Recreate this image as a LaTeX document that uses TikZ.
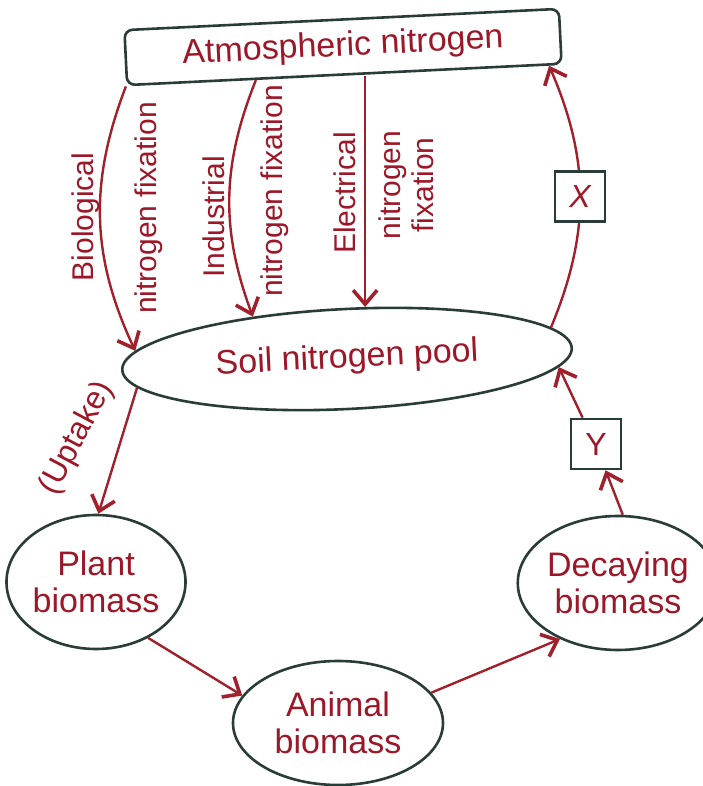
\documentclass[tikz,border=0pt]{standalone}
\usepackage{fontspec}
\setmainfont{Liberation Sans}
\usetikzlibrary{positioning,arrows.meta,shapes.geometric}
\definecolor{inkred}{RGB}{156,24,40}
\definecolor{rimgrey}{RGB}{42,60,55}
\definecolor{flowred}{RGB}{160,32,44}

\begin{document}
\begin{tikzpicture}[x=0.5pt, y=0.5pt,
  pool/.style={ellipse, draw=rimgrey, line width=1.3pt, fill=white, text=inkred,
    inner sep=0pt, align=center, font=\fontsize{17}{18.5}\selectfont},
  airbox/.style={rectangle, rounded corners=4pt, draw=rimgrey, line width=1.3pt,
    text=inkred, inner sep=0pt, font=\fontsize{17}{18.5}\selectfont},
  flow/.style={draw=flowred, line width=1.2pt,
    -{Straight Barb[length=7pt,width=12pt,line width=1.8pt]}},
  side/.style={text=inkred, font=\fontsize{15}{16.5}\selectfont, rotate=90,
    align=center, inner sep=0pt},
  tag/.style={draw=rimgrey, line width=1.3pt, fill=white, text=inkred,
    minimum size=25pt, inner sep=0pt, font=\fontsize{16}{16}\selectfont}]
% x = 0 is the left edge, y = 0 the bottom edge; one unit is one reference pixel
\useasboundingbox (0,0) rectangle (702,786);

\node[airbox, minimum width=217.5pt, minimum height=27.5pt, rotate=2.8] (atm) at (343,739) {Atmospheric nitrogen};
\node[pool, minimum width=225pt, minimum height=50pt, rotate=2.8] (soil) at (347,427) {Soil nitrogen pool};
\node[pool, minimum width=89pt, minimum height=67pt] (plant) at (96,204) {Plant\\biomass};
\node[pool, minimum width=105pt, minimum height=62pt] (animal) at (338,63) {Animal\\biomass};
\node[pool, minimum width=84pt, minimum height=67pt] (decay) at (618,203) {Decaying\\biomass};
\node[tag] (ybox) at (596,342) {Y};

% fixation routes
\draw[flow] (atm.south west) to[bend right=23] (soil.175);
\draw[flow] (atm.198) to[bend right=21] (soil.153);
\draw[flow] (atm.south -| soil.68) -- (soil.68);
\node[side] (biolbl) at (86,569) {Biological};
\node[side] (biofix) at (149,578) {nitrogen fixation};
\node[side] (indlbl) at (214,569) {Industrial};
\node[side] (indfix) at (275,595) {nitrogen fixation};
\node[side] (elelbl) at (345,593) {Electrical};
\node[side] (elefix) at (406,601) {nitrogen\\fixation};

% return to the air
\draw[flow] (soil.6) to[bend right=23] node[tag, pos=0.5] (xbox) {\itshape X} (atm.352);

% the living part of the cycle
\draw[flow] (soil.185) -- (plant.88);
\node[text=inkred, font=\fontsize{16}{16}\selectfont, rotate=62, inner sep=0pt] (uptake) at (77,348) {(Uptake)};
\draw[flow] (plant.313) -- (animal.164);
\draw[flow] (animal.18) -- (decay.224);
\draw[flow] (decay.86) -- (ybox.290);
\draw[flow] (ybox.117) -- (soil.355);
\end{tikzpicture}
\end{document}
